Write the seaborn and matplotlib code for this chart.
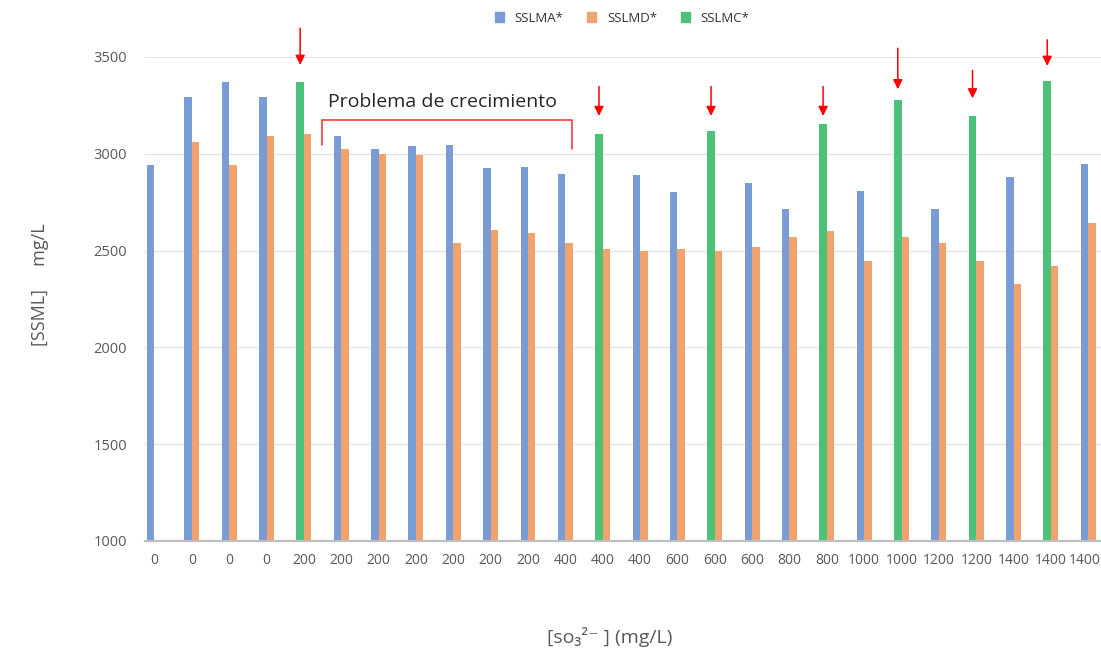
import numpy as np
import pandas as pd
import seaborn as sns
import matplotlib.pyplot as plt
import matplotlib.transforms as mtransforms
from matplotlib.patches import Patch

nan = np.nan

# concentracion de sulfito (etiquetas del eje x)
so3_labels = ["0", "0", "0", "0", "200", "200", "200", "200", "200", "200", "200",
              "400", "400", "400", "600", "600", "600", "800", "800",
              "1000", "1000", "1200", "1200", "1400", "1400", "1400"]

sslma = [2940, 3291, 3373, 3291, nan, 3091, 3026, 3039, 3046, 2926, 2933, 2896, nan,
         2893, 2802, nan, 2848, 2716, nan, 2809, nan, 2716, nan, 2879, nan, 2948]
sslmc = [nan, nan, nan, nan, 3373, nan, nan, nan, nan, nan, nan, nan, 3100,
         nan, nan, 3117, nan, nan, 3155, nan, 3276, nan, 3193, nan, 3376, nan]
sslmd = [nan, 3063, 2940, 3092, 3101, 3026, 3000, 2995, 2539, 2606, 2592, 2539, 2509,
         2497, 2509, 2497, 2517, 2572, 2603, 2448, 2572, 2541, 2448, 2328, 2419, 2641]

# flechas sobre las barras SSLMC (inicio, punta)
arrow_from = {4: 3663, 12: 3362, 15: 3362, 18: 3362, 20: 3560, 22: 3445, 24: 3603}
arrow_to = {4: 3445, 12: 3181, 15: 3181, 18: 3181, 20: 3319, 22: 3272, 24: 3440}

BLUE = "#7a9cd6"
ORANGE = "#f2a26c"
GREEN = "#4cc17a"
GREY = "#595959"

sns.set_theme(style="white")
plt.rcParams["font.family"] = ["Open Sans", "DejaVu Sans"]

first = [a if not np.isnan(a) else c for a, c in zip(sslma, sslmc)]
pos = list(range(len(so3_labels)))
df = pd.DataFrame({
    "pos": pos + pos,
    "slot": ["A"] * len(pos) + ["D"] * len(pos),
    "valor": first + sslmd,
})

fig = plt.figure(figsize=(11.01, 6.53), dpi=100)
ax = fig.add_axes([145 / 1101, 1 - 541 / 653, 956 / 1101, 484 / 653])

sns.barplot(data=df, x="pos", y="valor", hue="slot", order=pos, hue_order=["A", "D"],
            palette={"A": BLUE, "D": ORANGE}, width=0.4, dodge=True,
            saturation=1, ax=ax, legend=False)

# las barras de SSLMC ocupan el lugar de SSLMA
green_idx = [i for i, v in enumerate(sslmc) if not np.isnan(v)]
for p in ax.patches:
    xc = p.get_x() + p.get_width() / 2
    idx = int(round(xc + 0.1))
    if xc < idx and idx in green_idx:
        p.set_facecolor(GREEN)
    p.set_edgecolor("none")

ax.set_ylim(1000, 3500)
ax.set_xlim(-0.254, 25.34)
ax.set_yticks(range(1000, 3501, 500))
ax.set_xticks(pos)
ax.set_xticklabels(so3_labels)
ax.tick_params(axis="y", length=0, pad=13, labelsize=10.5, labelcolor=GREY)
ax.tick_params(axis="x", length=0, pad=9, labelsize=10, labelcolor=GREY)
# la ultima etiqueta queda pegada al borde derecho
last = ax.get_xticklabels()[-1]
last.set_transform(last.get_transform() +
                   mtransforms.ScaledTranslation(-4 / 100, 0, fig.dpi_scale_trans))
ax.set_xlabel("")
ax.set_ylabel("")
for y in range(1500, 3501, 500):
    ax.axhline(y, color="#e3e3e3", lw=0.9, zorder=0)
sns.despine(ax=ax, left=True, top=True, right=True)
ax.spines["bottom"].set_color("#bfbfbf")
ax.spines["bottom"].set_linewidth(1.6)

# flechas rojas
for i in green_idx:
    ax.annotate("", xy=(i - 0.1, arrow_to[i]), xytext=(i - 0.1, arrow_from[i]),
                arrowprops=dict(arrowstyle="-|>", color="red", lw=1.1, mutation_scale=14),
                annotation_clip=False)

# corchete "Problema de crecimiento"
ax.plot([4.48, 4.48, 11.18, 11.18], [3048, 3175, 3175, 3026], color="#ff3b3b",
        lw=1.2, clip_on=False)
ax.text(7.72, 3265, "Problema de crecimiento", ha="center", va="center",
        fontsize=14, color="#262626")

fig.text(40 / 1101, 1 - 285 / 653, "[SSML]     mg/L", rotation=90, ha="center",
         va="center", fontsize=13, color=GREY)
fig.text(610 / 1101, 1 - 637 / 653, "[so₃²⁻ ] (mg/L)", ha="center", va="center",
         fontsize=14, color=GREY)

handles = [Patch(color=BLUE), Patch(color=ORANGE), Patch(color=GREEN)]
fig.legend(handles, ["SSLMA*", "SSLMD*", "SSLMC*"], loc="center",
           bbox_to_anchor=(622 / 1101, 1 - 18 / 653), ncol=3, frameon=False,
           fontsize=9.5, handlelength=0.7, handleheight=0.7, handletextpad=0.8,
           columnspacing=1.8, labelcolor="#333333")

fig.savefig("out.png", dpi=100)
